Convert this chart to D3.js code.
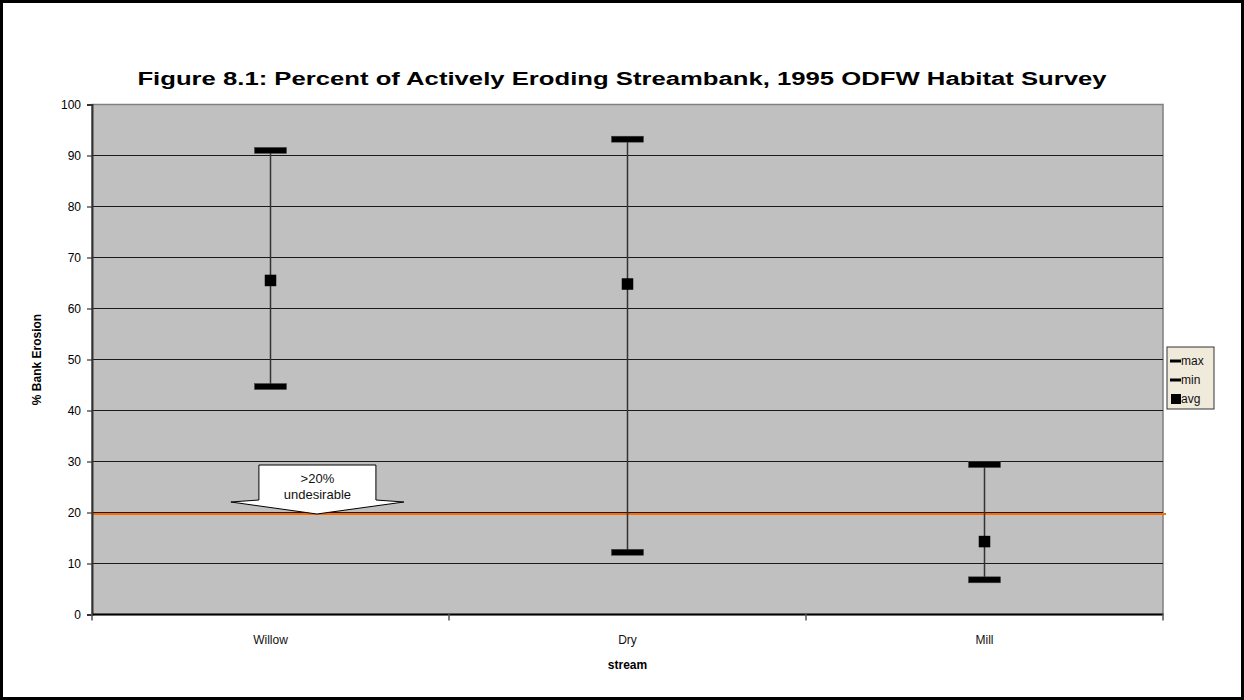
<!DOCTYPE html>
<html>
<head>
<meta charset="utf-8">
<script src="https://cdn.jsdelivr.net/npm/d3@7"></script>
<style>
  html, body { margin: 0; padding: 0; background: #fff; }
  svg { display: block; font-family: "Liberation Sans", Arial, sans-serif; }
</style>
</head>
<body>
<svg id="chart" width="1244" height="700"></svg>
<script>
// Streams surveyed and bank erosion statistics (%)
const streams = ["Willow", "Dry", "Mill"];
const maxValues = [91, 93.2, 29.4];
const minValues = [44.7, 12.2, 6.8];
const avgValues = [65.5, 64.8, 14.3];
const yTicks = [0, 10, 20, 30, 40, 50, 60, 70, 80, 90, 100];
const threshold = 20;
const calloutLines = [">20%", "undesirable"];
const legendItems = ["max", "min", "avg"];

const svg = d3.select("#chart");
const W = 1244, H = 700;
const plot = { left: 92, right: 1163, top: 104.5, bottom: 614.5 };

const x = d3.scaleBand().domain(streams).range([plot.left, plot.right]).padding(0);
const y = d3.scaleLinear().domain([0, 100]).range([plot.bottom, plot.top]);

// outer frame
svg.append("rect").attr("x", 1.5).attr("y", 1.5).attr("width", W - 3).attr("height", H - 3)
  .attr("fill", "#fff").attr("stroke", "#000").attr("stroke-width", 3);

// title, fitted to the heading width
const titleG = svg.append("g");
const title = titleG.append("text").attr("x", 0).attr("y", 0).attr("text-anchor", "middle")
  .attr("font-weight", "bold").attr("font-size", 19).attr("fill", "#000")
  .text("Figure 8.1: Percent of Actively Eroding Streambank, 1995 ODFW Habitat Survey");
const sx = 970 / title.node().getComputedTextLength();
titleG.attr("transform", `translate(622,85) scale(${sx},1)`);

// plot background
svg.append("rect").attr("x", plot.left).attr("y", plot.top)
  .attr("width", plot.right - plot.left).attr("height", plot.bottom - plot.top)
  .attr("fill", "#C0C0C0").attr("stroke", "#808080").attr("stroke-width", 1.5);

// gridlines
svg.append("g").selectAll("line").data(yTicks.filter(d => d > 0 && d < 100)).join("line")
  .attr("x1", plot.left).attr("x2", plot.right)
  .attr("y1", d => y(d)).attr("y2", d => y(d))
  .attr("stroke", "#1a1a1a").attr("stroke-width", 1);

// threshold line
svg.append("line").attr("x1", plot.left).attr("x2", plot.right + 3)
  .attr("y1", y(threshold) + 1.5).attr("y2", y(threshold) + 1.5)
  .attr("stroke", "#FF6A00").attr("stroke-width", 2);

// y axis
const yAxis = svg.append("g").attr("transform", `translate(${plot.left},0)`)
  .call(d3.axisLeft(y).tickValues(yTicks).tickSize(5).tickPadding(6));
yAxis.select(".domain").attr("stroke", "#333").attr("stroke-width", 2);
yAxis.selectAll(".tick line").attr("stroke", "#333").attr("stroke-width", 1.2);
yAxis.selectAll("text").attr("font-size", 12).attr("fill", "#000")
  .attr("font-family", "Liberation Sans, Arial, sans-serif");

// x axis: ticks at category boundaries
const xAxisG = svg.append("g").attr("transform", `translate(0,${plot.bottom})`);
xAxisG.append("line").attr("x1", plot.left).attr("x2", plot.right)
  .attr("stroke", "#000").attr("stroke-width", 2);
const boundaries = streams.map(s => x(s)).concat([x(streams[streams.length - 1]) + x.bandwidth()]);
xAxisG.selectAll("line.tk").data(boundaries).join("line").attr("class", "tk")
  .attr("x1", d => d).attr("x2", d => d).attr("y1", -1).attr("y2", 6)
  .attr("stroke", "#555").attr("stroke-width", 1.5);
xAxisG.selectAll("text").data(streams).join("text")
  .attr("x", d => x(d) + x.bandwidth() / 2).attr("y", 29)
  .attr("text-anchor", "middle").attr("font-size", 12).attr("fill", "#111").text(d => d);

// axis titles
svg.append("text").attr("x", (plot.left + plot.right) / 2).attr("y", 669)
  .attr("text-anchor", "middle").attr("font-weight", "bold").attr("font-size", 12).text("stream");
svg.append("text").attr("transform", `translate(41,${(plot.top + plot.bottom) / 2}) rotate(-90)`)
  .attr("text-anchor", "middle").attr("font-weight", "bold").attr("font-size", 12).text("% Bank Erosion");

// error bars
const cx = d => x(d) + x.bandwidth() / 2;
const g = svg.append("g");
g.selectAll("line.stem").data(streams).join("line").attr("class", "stem")
  .attr("x1", cx).attr("x2", cx)
  .attr("y1", (d, i) => y(maxValues[i])).attr("y2", (d, i) => y(minValues[i]))
  .attr("stroke", "#333").attr("stroke-width", 1.5);
const capW = 32, capH = 6;
[maxValues, minValues].forEach(vals => {
  g.selectAll(null).data(streams).join("rect")
    .attr("x", d => cx(d) - capW / 2).attr("y", (d, i) => y(vals[i]) - capH / 2)
    .attr("width", capW).attr("height", capH)
    .attr("fill", "#000").attr("stroke", "#444").attr("stroke-width", 0.5);
});
const sq = 11.5;
g.selectAll("rect.avg").data(streams).join("rect").attr("class", "avg")
  .attr("x", d => cx(d) - sq / 2).attr("y", (d, i) => y(avgValues[i]) - sq / 2)
  .attr("width", sq).attr("height", sq).attr("fill", "#000");

// callout arrow pointing at the threshold
const tipX = x(streams[0]) + x.bandwidth() * 0.63;
const tipY = y(threshold) + 1.5;
const bodyL = tipX - 58, bodyR = tipX + 59, bodyT = tipY - 49, bodyB = tipY - 14;
const wingL = tipX - 86, wingR = tipX + 87, wingY = tipY - 12;
svg.append("path")
  .attr("d", `M${bodyL},${bodyT} L${bodyR},${bodyT} L${bodyR},${bodyB} L${wingR},${wingY} L${tipX},${tipY} L${wingL},${wingY} L${bodyL},${bodyB} Z`)
  .attr("fill", "#fff").attr("stroke", "#000").attr("stroke-width", 1);
svg.append("g").selectAll("text").data(calloutLines).join("text")
  .attr("x", (bodyL + bodyR) / 2).attr("y", (d, i) => bodyT + 18 + i * 16)
  .attr("text-anchor", "middle").attr("font-size", 13).attr("fill", "#111").text(d => d);

// legend
const lg = svg.append("g").attr("transform", "translate(1167,347)");
lg.append("rect").attr("width", 47).attr("height", 62)
  .attr("fill", "#F0EADB").attr("stroke", "#333").attr("stroke-width", 1);
legendItems.forEach((name, i) => {
  const yy = 14 + i * 19;
  if (name === "avg") {
    lg.append("rect").attr("x", 4).attr("y", yy - 5).attr("width", 10).attr("height", 10).attr("fill", "#000");
  } else {
    lg.append("rect").attr("x", 3).attr("y", yy - 1.5).attr("width", 11).attr("height", 3).attr("fill", "#000");
  }
  lg.append("text").attr("x", 14).attr("y", yy + 4).attr("font-size", 12).attr("fill", "#111").text(name);
});
</script>
</body>
</html>
